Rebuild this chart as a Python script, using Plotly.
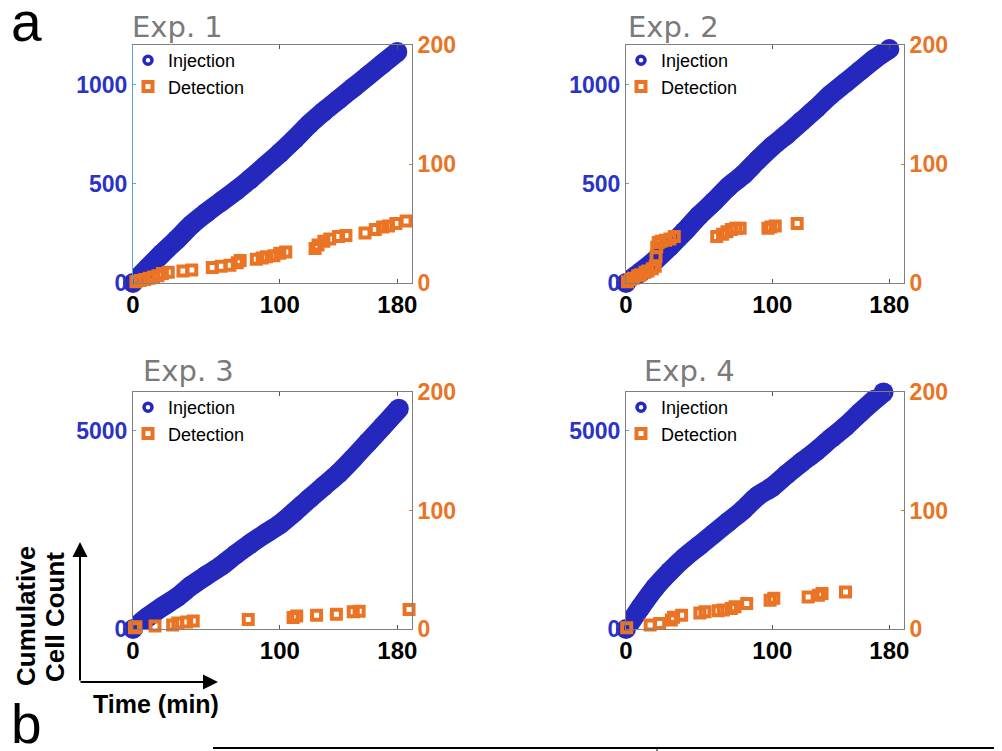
import plotly.graph_objects as go

# page body has an 8 px margin, so the figure is 994x743 placed at (8, 8)
OFF = 8
W, H = 994, 743

# ---------------- data ----------------
# Exp. 1
inj1_t = [0, 10, 20, 30, 40, 50, 60, 70, 80, 90, 100, 110, 120, 130, 140, 150, 160, 170, 180]
inj1_n = [0, 75, 150, 220, 295, 355, 410, 465, 525, 590, 655, 725, 800, 865, 925, 985, 1045, 1105, 1165]
det1_t = [2, 5, 8, 11, 14, 17, 20, 24, 34, 40, 54, 60, 66, 71, 73, 84, 88, 91, 96, 100, 104,
          124, 126, 130, 134, 140, 145, 158, 165, 170, 174, 179, 186]
det1_n = [1, 2, 3, 4, 5, 6, 8, 9, 10, 11, 13, 14, 15, 17, 19, 20, 21, 22, 23, 25, 26,
          29, 32, 35, 37, 39, 40, 42, 45, 47, 48, 50, 52]

# Exp. 2
inj2_t = [0, 10, 20, 30, 40, 50, 60, 70, 80, 90, 100, 110, 120, 130, 140, 150, 160, 170, 180]
inj2_n = [0, 55, 115, 185, 260, 340, 410, 485, 545, 620, 690, 750, 815, 880, 950, 1010, 1070, 1130, 1180]
det2_t = [1, 3, 5, 8, 10, 13, 15, 18, 20, 20.5, 21, 22, 24, 27, 30, 33,
          62, 66, 69, 72, 75, 78, 97, 99, 102, 117]
det2_n = [1, 3, 4, 6, 7, 9, 10, 12, 14, 22, 30, 34, 35, 36, 37, 39,
          39, 41, 43, 45, 46, 46, 46, 47, 48, 50]

# Exp. 3
inj3_t = [0, 10, 20, 30, 40, 50, 60, 70, 80, 90, 100, 110, 120, 130, 140, 150, 160, 170, 181]
inj3_n = [0, 300, 560, 800, 1100, 1350, 1590, 1880, 2150, 2400, 2640, 2950, 3280, 3600,
          3920, 4300, 4700, 5100, 5550]
det3_t = [1, 2, 15, 27, 30.5, 36.5, 41, 78.5, 109, 111.5, 125, 138.5, 150, 154, 188]
det3_n = [1, 2, 2.5, 3.3, 5, 6, 6.7, 8, 9.8, 11, 11.7, 12.5, 14.5, 15, 16.5]

# Exp. 4
inj4_t = [0, 10, 20, 30, 40, 50, 60, 70, 80, 90, 100, 110, 120, 130, 140, 150, 160, 170, 176]
inj4_n = [0, 550, 1050, 1450, 1800, 2100, 2400, 2700, 3000, 3350, 3580, 3900, 4200, 4480,
          4800, 5100, 5450, 5780, 5960]
det4_t = [0.5, 16.5, 23, 31, 32.5, 38, 50.5, 54, 63, 66.5, 72, 74.5, 82.5, 98.5, 101,
          124.5, 131.5, 134, 150]
det4_n = [1, 3.3, 4.7, 7.5, 10, 11.7, 13.6, 14.5, 15.3, 16, 17.3, 18.7, 21.5, 24.3, 26,
          27, 28.5, 30, 31.2]

titles = ["Exp. 1", "Exp. 2", "Exp. 3", "Exp. 4"]
x_ticks = [0, 100, 180]
left_ticks_top = [0, 500, 1000]
left_ticks_bottom = [0, 5000]
right_ticks = [0, 100, 200]

# ---------------- styling ----------------
BLUE = "#2428BC"
BLUE_LBL = "#2B33C6"
ORANGE = "#EA7424"
LIGHTBLUE = "#5BA6DA"
GRAY = "#808080"
TICKFONT = "Liberation Sans"

# panel boxes in screen pixels: (left, right, top, bottom)
boxes = [(133, 412, 45, 283), (626, 904, 45, 283), (133, 412, 392, 629), (626, 904, 392, 629)]
yranges = [[0, 1200], [0, 1200], [0, 5970], [0, 5970]]
lticks = [left_ticks_top, left_ticks_top, left_ticks_bottom, left_ticks_bottom]
inj = [(inj1_t, inj1_n), (inj2_t, inj2_n), (inj3_t, inj3_n), (inj4_t, inj4_n)]
det = [(det1_t, det1_n), (det2_t, det2_n), (det3_t, det3_n), (det4_t, det4_n)]


def px_x(v):
    return (v - OFF) / W


def px_y(v):
    return 1 - (v - OFF) / H


fig = go.Figure()
layout = dict(
    width=W, height=H, margin=dict(l=0, r=0, t=0, b=0, autoexpand=False),
    paper_bgcolor="white", plot_bgcolor="rgba(0,0,0,0)",
    showlegend=True, annotations=[], shapes=[],
)

for i in range(4):
    L, R, T, B = boxes[i]
    xa = "x" if i == 0 else f"x{i+1}"
    ya_p = "y" if i == 0 else f"y{2*i+1}"
    ya_s = f"y{2*i+2}"
    leg = "legend" if i == 0 else f"legend{i+1}"

    # legend-only injection marker
    fig.add_trace(go.Scatter(
        x=[None], y=[None], mode="markers", name="Injection",
        marker=dict(symbol="circle-open", size=8, color=BLUE, line=dict(width=3.5, color=BLUE)),
        xaxis=xa, yaxis=ya_p, legend=leg, showlegend=True))
    # injection band
    t, n = inj[i]
    fig.add_trace(go.Scatter(
        x=t, y=n, mode="lines+markers", name="Injection",
        line=dict(color=BLUE, width=20, shape="spline", smoothing=0.8),
        marker=dict(symbol="circle", size=20, color=BLUE),
        cliponaxis=False,
        xaxis=xa, yaxis=ya_p, showlegend=False))
    # detection squares
    t, n = det[i]
    fig.add_trace(go.Scatter(
        x=t, y=n, mode="markers", name="Detection",
        marker=dict(symbol="square-open", size=9, color=ORANGE, line=dict(width=4, color=ORANGE)),
        cliponaxis=False,
        xaxis=xa, yaxis=ya_s, legend=leg, showlegend=True))

    xkey = "xaxis" if i == 0 else f"xaxis{i+1}"
    ykey_p = "yaxis" if i == 0 else f"yaxis{2*i+1}"
    ykey_s = f"yaxis{2*i+2}"
    ydom = [px_y(B), px_y(T)]

    layout[xkey] = dict(
        domain=[px_x(L), px_x(R)], anchor=ya_p, range=[0, 190], automargin=False,
        tickmode="array", tickvals=x_ticks, ticks="inside", ticklen=4, tickcolor="#555555",
        showline=True, linecolor=GRAY, linewidth=1, mirror="ticks",
        showgrid=False, zeroline=False,
        tickfont=dict(family=TICKFONT, size=24, color="black", weight="bold"))
    layout[ykey_p] = dict(
        domain=ydom, anchor=xa, range=yranges[i], automargin=False,
        tickmode="array", tickvals=lticks[i], ticks="inside", ticklen=3, tickcolor=LIGHTBLUE,
        showline=True, linecolor=LIGHTBLUE if i == 0 else GRAY, linewidth=1, mirror=False,
        showgrid=False, zeroline=False,
        tickfont=dict(family=TICKFONT, size=23, color=BLUE_LBL, weight="bold"))
    layout[ykey_s] = dict(
        domain=ydom, anchor=xa, overlaying=ya_p, side="right", range=[0, 200], automargin=False,
        tickmode="array", tickvals=right_ticks, ticks="inside", ticklen=3, tickcolor=ORANGE,
        showline=True, linecolor=GRAY, linewidth=1,
        showgrid=False, zeroline=False,
        tickfont=dict(family=TICKFONT, size=23, color=ORANGE, weight="bold"))
    layout[leg] = dict(
        x=px_x(L - 5), y=px_y(T - 3), xanchor="left", yanchor="top",
        bgcolor="rgba(0,0,0,0)", borderwidth=0,
        font=dict(family="Liberation Sans", size=18, color="black"),
        tracegroupgap=0, itemsizing="trace")

    # panel title
    tx = [130, 626, 141, 642][i]
    ty = [27, 27, 371, 371][i]
    layout["annotations"].append(dict(
        text=titles[i], x=px_x(tx), y=px_y(ty), xref="paper", yref="paper",
        xanchor="left", yanchor="middle", showarrow=False,
        font=dict(family="DejaVu Sans", size=29, color="#7a7a7a")))

# panel letters
layout["annotations"].append(dict(text="a", x=px_x(9), y=px_y(22), xref="paper", yref="paper",
                                  xanchor="left", yanchor="middle", showarrow=False,
                                  font=dict(family="Liberation Sans", size=55, color="black")))
layout["annotations"].append(dict(text="b", x=px_x(9), y=px_y(724), xref="paper", yref="paper",
                                  xanchor="left", yanchor="middle", showarrow=False,
                                  font=dict(family="Liberation Sans", size=55, color="black")))
# schematic axis labels
layout["annotations"].append(dict(text="Cumulative", x=px_x(26), y=px_y(616), xref="paper", yref="paper",
                                  xanchor="center", yanchor="middle", showarrow=False, textangle=-90,
                                  font=dict(family="Liberation Sans", size=26, color="black", weight="bold")))
layout["annotations"].append(dict(text="Cell Count", x=px_x(55), y=px_y(617), xref="paper", yref="paper",
                                  xanchor="center", yanchor="middle", showarrow=False, textangle=-90,
                                  font=dict(family="Liberation Sans", size=26, color="black", weight="bold")))
layout["annotations"].append(dict(text="Time (min)", x=px_x(156), y=px_y(704), xref="paper", yref="paper",
                                  xanchor="center", yanchor="middle", showarrow=False,
                                  font=dict(family="Liberation Sans", size=25, color="black", weight="bold")))
# arrows (tail offsets in pixels)
layout["annotations"].append(dict(text="", x=px_x(80), y=px_y(542), xref="paper", yref="paper",
                                  ax=0, ay=140, axref="pixel", ayref="pixel",
                                  showarrow=True, arrowhead=2, arrowsize=1.5, arrowwidth=2, arrowcolor="black"))
layout["annotations"].append(dict(text="", x=px_x(218), y=px_y(682), xref="paper", yref="paper",
                                  ax=-139, ay=0, axref="pixel", ayref="pixel",
                                  showarrow=True, arrowhead=2, arrowsize=1.5, arrowwidth=2, arrowcolor="black"))
# top edge of panel b
layout["shapes"].append(dict(type="line", xref="paper", yref="paper",
                             x0=px_x(213), x1=1, y0=px_y(748), y1=px_y(748),
                             line=dict(color="black", width=2)))
layout["shapes"].append(dict(type="line", xref="paper", yref="paper",
                             x0=px_x(657), x1=px_x(657), y0=px_y(748), y1=0,
                             line=dict(color="black", width=1)))

fig.update_layout(**layout)
fig.write_html("out.html")
